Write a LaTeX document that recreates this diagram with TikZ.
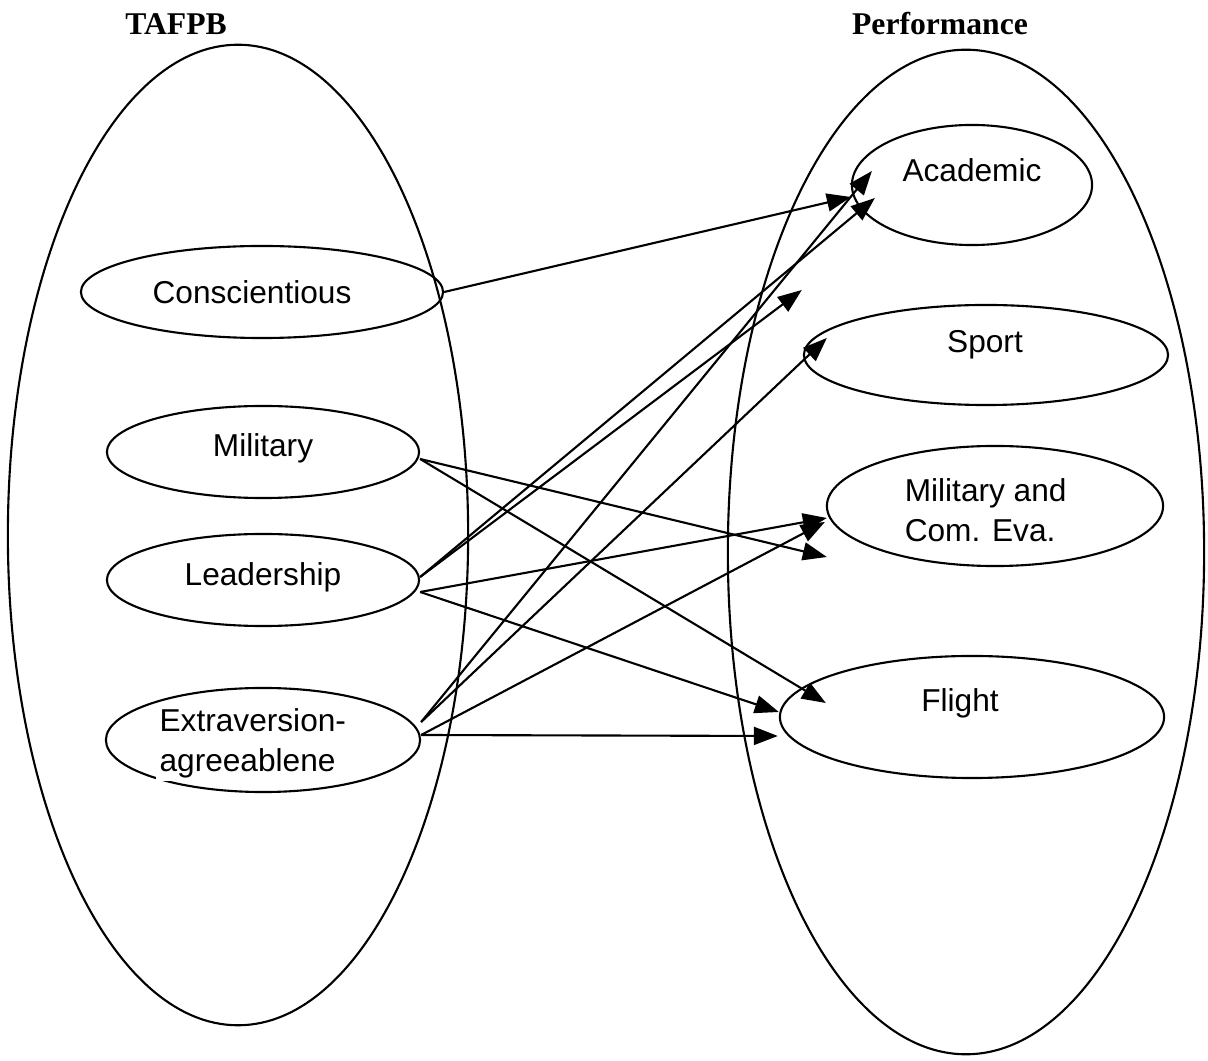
\documentclass[tikz,border=0pt]{standalone}
\usepackage{fontspec}
\setmainfont{Liberation Sans}
\newfontfamily\headfont{Liberation Serif}
\usepackage{tikz}
\usetikzlibrary{arrows.meta}
\usetikzlibrary{calc}
\usetikzlibrary{shapes.geometric}

\begin{document}
\begin{tikzpicture}[x=0.01cm, y=-0.01cm, every path/.style={-{Triangle[length=2.4mm, width=1.8mm]}, line width=0.6pt}, font=\fontsize{9}{11.3}\selectfont, trait/.style={draw, ellipse, inner sep=0}, heading/.style={font=\headfont\bfseries\fontsize{9}{11}\selectfont}]
    \useasboundingbox (0, 0) rectangle (1208, 1061);

    % the two groups
    \node (tafpb) [heading, at={(176, 24)}] {TAFPB};
    \node (perf) [heading, at={(940, 24)}] {Performance};
    \node (tafpb-outer) [trait, minimum width=4.6cm, minimum height=9.8cm, at={(238, 535)}] {};
    \node (perf-outer) [trait, minimum width=4.76cm, minimum height=10.04cm, at={(966, 552)}] {};

    % predictors
    \node (cons) [trait, minimum width=3.62cm, minimum height=0.92cm, at={(262, 292)}] {};
    \node (cons-text) [at={(252, 292)}] {Conscientious};
    \node (mil) [trait, minimum width=3.12cm, minimum height=0.92cm, at={(263, 452)}] {};
    \node (mil-text) [at={(263, 448)}] {Military};
    \node (lead) [trait, minimum width=3.12cm, minimum height=0.92cm, at={(263, 580)}] {};
    \node (lead-text) [at={(263, 577)}] {Leadership};
    \node (extra) [trait, minimum width=3.14cm, minimum height=1.04cm, at={(263, 740)}] {};
    \node (extra-text) [align=left, anchor=west, fill=white, inner sep=1pt, at={(155, 743)}] {Extraversion-\\agreeablene};

    % criteria
    \node (acad) [trait, minimum width=2.4cm, minimum height=1.2cm, at={(972, 185)}] {};
    \node (acad-text) [at={(972, 170)}] {Academic};
    \node (sport) [trait, minimum width=3.64cm, minimum height=1.0cm, at={(986, 355)}] {};
    \node (sport-text) [at={(985, 345)}] {Sport};
    \node (milcom) [trait, minimum width=3.36cm, minimum height=1.2cm, at={(995, 506)}] {};
    \node (milcom-text) [align=left, anchor=west, at={(892, 510)}] {Military and\\Com. Eva.};
    \node (flight) [trait, minimum width=3.84cm, minimum height=1.22cm, at={(972, 717)}] {};
    \node (flight-text) [at={(960, 703)}] {Flight};

    \coordinate (mil-out) at ($(mil.east)+(0, 7)$);
    \coordinate (lead-out-a) at ($(lead.east)+(0, -3)$);
    \coordinate (lead-out-b) at ($(lead.east)+(0, 12)$);
    \coordinate (extra-out-a) at ($(extra.east)+(0, -18)$);
    \coordinate (extra-out-b) at ($(extra.east)+(0, -5)$);

    \coordinate (acad-in-a) at ($(acad.west)+(0, 12)$);
    \coordinate (acad-in-b) at ($(acad.west)+(24, 13)$);
    \coordinate (acad-in-c) at ($(acad.west)+(21, -14)$);
    \coordinate (sport-in-a) at ($(sport.west)+(-1, -65)$);
    \coordinate (sport-in-b) at ($(sport.west)+(24, -17)$);
    \coordinate (milcom-in-a) at ($(milcom.west)+(1, 12)$);
    \coordinate (milcom-in-b) at ($(milcom.west)+(-1, 16)$);
    \coordinate (milcom-in-c) at ($(milcom.west)+(1, 51)$);
    \coordinate (flight-in-a) at ($(flight.west)+(0, -5)$);
    \coordinate (flight-in-b) at ($(flight.west)+(-1, 19)$);
    \coordinate (flight-in-c) at ($(flight.west)+(47, -14)$);

    \draw (cons.east) -- (acad-in-a);
    \draw (mil-out) -- (milcom-in-c);
    \draw (mil-out) -- (flight-in-c);
    \draw (lead-out-a) -- (acad-in-b);
    \draw (lead-out-a) -- (sport-in-a);
    \draw (lead-out-b) -- (milcom-in-a);
    \draw (lead-out-b) -- (flight-in-a);
    \draw (extra-out-a) -- (acad-in-c);
    \draw (extra-out-a) -- (sport-in-b);
    \draw (extra-out-b) -- (milcom-in-b);
    \draw (extra-out-b) -- (flight-in-b);
\end{tikzpicture}
\end{document}
